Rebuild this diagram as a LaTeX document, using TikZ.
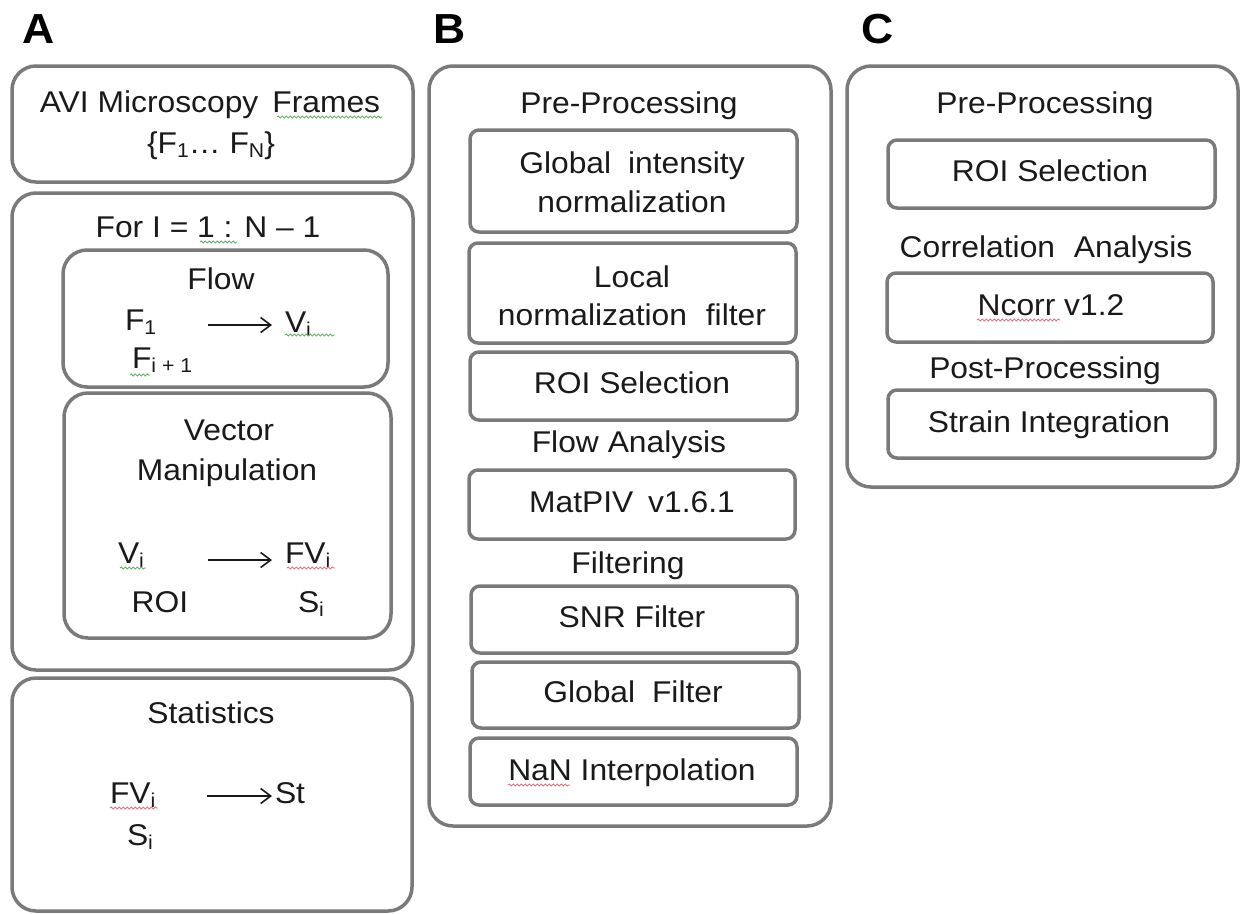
\documentclass[tikz,border=0pt]{standalone}
\usepackage{fontspec}
\setmainfont{Liberation Sans}[FakeStretch=1.06]
\usetikzlibrary{arrows.meta,decorations.pathmorphing}

\definecolor{framegray}{HTML}{7A7A7A}
\definecolor{inkblack}{HTML}{1A1A1A}
\definecolor{spellred}{HTML}{E27586}
\definecolor{spellgreen}{HTML}{6AAE6A}

% lowered small index used in the variable names
\newcommand{\lowsub}[1]{\raisebox{-4pt}{\fontsize{20}{20}\selectfont #1}}

\begin{document}
\begin{tikzpicture}[x=1pt,y=-1pt,
  every node/.style={inner sep=0pt, outer sep=0pt},
  txt/.style={font=\fontsize{30}{40}\selectfont, text=inkblack, anchor=base},
  txtw/.style={txt, anchor=base west},
  panellabel/.style={font=\fontsize{42}{42}\selectfont\bfseries, text=black, anchor=base west},
  panelbox/.style={draw=framegray, line width=3.5pt, rounded corners=24pt},
  subbox/.style={draw=framegray, line width=3.5pt, rounded corners=24pt},
  stepbox/.style={draw=framegray, line width=3.5pt, rounded corners=9pt},
  maparrow/.style={draw=inkblack, line width=1.6pt, -{Straight Barb[length=10pt,width=15pt,line width=1.6pt]}},
  spell/.style={decorate, decoration={snake, segment length=4pt, amplitude=1pt}, line width=0.9pt}
]
\useasboundingbox (0,0) rectangle (1241,913);

% ---------------- panel labels ----------------
\node[panellabel] (labA) at (22,43) {A};
\node[panellabel] (labB) at (433,43) {B};
\node[panellabel] (labC) at (861,43) {C};

% ---------------- panel A ----------------
\node[panelbox, minimum width=401pt, minimum height=116pt] (avi) at (212.5,124) {};
\node[txt] (avi-t1) at (210,112) {AVI Microscopy\hspace{14pt}Frames};
\node[txt] (avi-t2) at (211,153) {\{F\lowsub{1}…\ F\lowsub{N}\}};

\node[panelbox, minimum width=401pt, minimum height=477pt] (loop) at (212.5,431.5) {};
\node[txt] (loop-t) at (208,237) {For I = 1 : N – 1};

\node[subbox, minimum width=325pt, minimum height=137pt] (flow) at (225.5,318.5) {};
\node[txt] (flow-t) at (221,289) {Flow};
\node[txtw] (f1) at (125,330) {F\lowsub{1}};
\node[txtw] (fi1) at (132,368) {F\lowsub{i + 1}};
\node[txtw] (vi) at (285,332) {V\lowsub{i}};
\coordinate (flow-a) at (208,325);
\coordinate (flow-b) at (272,325);
\draw[maparrow] (flow-a) -- (flow-b);

\node[subbox, minimum width=327pt, minimum height=245pt] (vec) at (227.5,515.5) {};
\node[txt] (vec-t1) at (229,440) {Vector};
\node[txt] (vec-t2) at (227,480) {Manipulation};
\node[txtw] (vec-vi) at (118,563) {V\lowsub{i}};
\node[txt] (vec-roi) at (160,612) {ROI};
\node[txtw] (vec-fvi) at (285,563) {FV\lowsub{i}};
\node[txtw] (vec-si) at (298,612) {S\lowsub{i}};
\coordinate (vec-a) at (208,560);
\coordinate (vec-b) at (272,560);
\draw[maparrow] (vec-a) -- (vec-b);

\node[panelbox, minimum width=400pt, minimum height=233pt] (stat) at (212,794.5) {};
\node[txt] (stat-t) at (211,723) {Statistics};
\node[txtw] (stat-fvi) at (110,803) {FV\lowsub{i}};
\node[txtw] (stat-si) at (127,845) {S\lowsub{i}};
\node[txtw] (stat-st) at (275,803) {St};
\coordinate (stat-a) at (207,796);
\coordinate (stat-b) at (272,796);
\draw[maparrow] (stat-a) -- (stat-b);

% ---------------- panel B ----------------
\node[panelbox, minimum width=402pt, minimum height=760pt] (pivB) at (630,446) {};
\node[txt] (preB) at (629,113) {Pre-Processing};

\node[stepbox, minimum width=327pt, minimum height=102pt] (gin) at (633.5,181) {};
\node[txt] (gin-t1) at (632,173) {Global\hspace{8pt} intensity};
\node[txt] (gin-t2) at (632,212) {normalization};

\node[stepbox, minimum width=327pt, minimum height=100pt] (lnf) at (632.5,293) {};
\node[txt] (lnf-t1) at (632,287) {Local};
\node[txt] (lnf-t2) at (632,325) {normalization\hspace{10pt} filter};

\node[stepbox, minimum width=327pt, minimum height=68pt] (roiB) at (633.5,386) {};
\node[txt] (roiB-t) at (632,393) {ROI Selection};

\node[txt] (flowan) at (629,452) {Flow Analysis};

\node[stepbox, minimum width=326pt, minimum height=69pt] (matpiv) at (632,504.5) {};
\node[txt] (matpiv-t) at (632,512) {MatPIV\hspace{6pt} v1.6.1};

\node[txt] (filt) at (628,573) {Filtering};

\node[stepbox, minimum width=326pt, minimum height=67pt] (snr) at (634,619.5) {};
\node[txt] (snr-t) at (632,627) {SNR Filter};

\node[stepbox, minimum width=327pt, minimum height=66pt] (glf) at (635.5,695) {};
\node[txt] (glf-t) at (633,702) {Global\hspace{8pt} Filter};

\node[stepbox, minimum width=327pt, minimum height=67pt] (nan) at (633.5,771.5) {};
\node[txt] (nan-t) at (632,780) {NaN Interpolation};

% ---------------- panel C ----------------
\node[panelbox, minimum width=391pt, minimum height=421pt] (dicC) at (1042.5,276.5) {};
\node[txt] (preC) at (1045,113) {Pre-Processing};

\node[stepbox, minimum width=327pt, minimum height=68pt] (roiC) at (1051.5,174) {};
\node[txt] (roiC-t) at (1050,181) {ROI Selection};

\node[txt] (corr) at (1046,257) {Correlation\hspace{10pt} Analysis};

\node[stepbox, minimum width=326pt, minimum height=69pt] (ncorr) at (1050,307.5) {};
\node[txt] (ncorr-t) at (1051,315) {Ncorr v1.2};

\node[txt] (post) at (1045,378) {Post-Processing};

\node[stepbox, minimum width=327pt, minimum height=68pt] (strain) at (1051.5,424) {};
\node[txt] (strain-t) at (1049,432) {Strain Integration};

% ---------------- proofing underlines ----------------
\draw[spell, draw=spellgreen] (277,117) -- (382,117);
\draw[spell, draw=spellgreen] (200,242) -- (237,242);
\draw[spell, draw=spellgreen] (285,335) -- (335,335);
\draw[spell, draw=spellgreen] (130,375) -- (150,375);
\draw[spell, draw=spellgreen] (120,568) -- (146,568);
\draw[spell, draw=spellred] (287,568) -- (335,568);
\draw[spell, draw=spellred] (110,808) -- (158,808);
\draw[spell, draw=spellred] (977,320) -- (1060,320);
\draw[spell, draw=spellred] (508,785) -- (570,785);
\end{tikzpicture}
\end{document}
